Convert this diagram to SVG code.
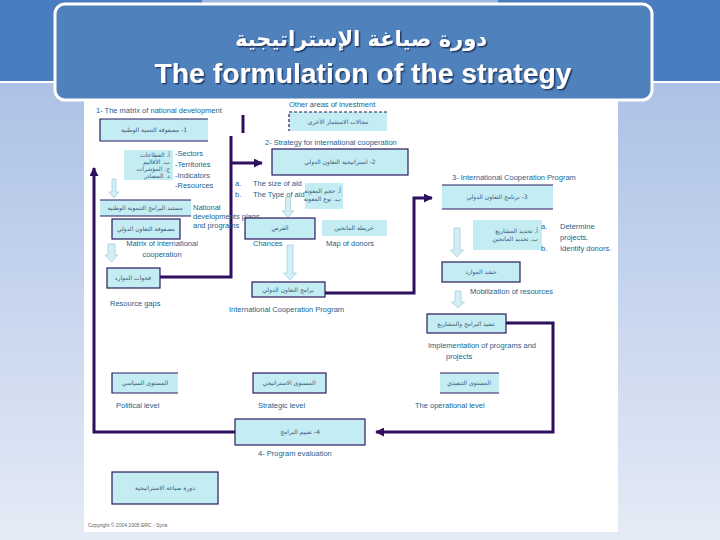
<svg xmlns="http://www.w3.org/2000/svg" width="720" height="540" viewBox="0 0 720 540">
<style>
.lbl{font-family:"Liberation Sans","DejaVu Sans",sans-serif;font-size:7.5px;fill:#1c5f8c}
.ar{font-family:"DejaVu Sans",sans-serif;font-size:6px;fill:#3a5878}
.bx{fill:#c4ecf3}
.bd{fill:none;stroke:#2a1a5e;stroke-width:1.2}
.dash{fill:none;stroke:#2a1a5e;stroke-width:1.2;stroke-dasharray:3,2}
.con{fill:none;stroke:#2e0f5e;stroke-width:3}
.barr{fill:#d3eef5;stroke:#a6cfe0;stroke-width:0.8}
.cp{font-family:"Liberation Sans",sans-serif;font-size:5px;fill:#666}
</style>
<defs>
<linearGradient id="bg" x1="0" y1="0" x2="0" y2="1">
<stop offset="0" stop-color="#a2bae3"/>
<stop offset="1" stop-color="#e5ebf6"/>
</linearGradient>
<filter id="sh" x="-5%" y="-20%" width="110%" height="140%">
<feDropShadow dx="1.5" dy="1.5" stdDeviation="0.4" flood-color="#1d3560" flood-opacity="0.9"/>
</filter>
<marker id="ah" viewBox="0 0 10 10" refX="9" refY="5" markerWidth="3.2" markerHeight="3" orient="auto" markerUnits="strokeWidth">
<path d="M0,0 L10,5 L0,10 Z" fill="#2e0f5e"/>
</marker>
</defs>

<g id="background">
<rect x="0" y="0" width="720" height="540" fill="url(#bg)"/>
<rect x="0" y="0" width="720" height="81" fill="#4a7dbf"/>
<rect x="0" y="81" width="720" height="2" fill="#ffffff"/>
<rect x="84" y="95" width="534" height="437" fill="#ffffff"/>
</g>

<g id="header">
<rect x="202" y="0" width="296" height="5" fill="#9fb7e0"/>
<rect x="55" y="4" width="597" height="96" rx="10" fill="#4f81bd" stroke="#ffffff" stroke-width="3"/>
<text x="361" y="46" text-anchor="middle" direction="rtl" font-family="'DejaVu Sans',sans-serif" font-weight="bold" font-size="21" fill="#ffffff" filter="url(#sh)">دورة صياغة الإستراتيجية</text>
<text x="363" y="83" text-anchor="middle" font-family="'Liberation Sans',sans-serif" font-weight="bold" font-size="27" fill="#ffffff" textLength="417" lengthAdjust="spacingAndGlyphs" filter="url(#sh)">The formulation of the strategy</text>
</g>

<g id="connectors">
<path class="con" d="M243,115 V133"/>
<path class="con" d="M160,277 H231 V136"/>
<path class="con" d="M231,163 H262" marker-end="url(#ah)"/>
<path class="con" d="M325,293 H414 V198 H432" marker-end="url(#ah)"/>
<path class="con" d="M506,323 H553 V432 H376" marker-end="url(#ah)"/>
<path class="con" d="M235,432 H94 V168" marker-end="url(#ah)"/>
</g>

<g id="n-matrix-national">
<text class="lbl" x="96" y="113">1- The matrix of national development</text>
<rect class="bx" x="100" y="119" width="108" height="22"/>
<path class="bd" d="M208,119 H100 V141 H208"/>
<text class="ar" x="154" y="132" text-anchor="middle" direction="rtl">1- مصفوفة التنمية الوطنية</text>
</g>

<g id="n-sectors">
<rect class="bx" x="124" y="150" width="49" height="30"/>
<text class="ar" x="170" y="157" text-anchor="start" direction="rtl" font-size="5.5">أ. القطاعات</text>
<text class="ar" x="170" y="164" text-anchor="start" direction="rtl" font-size="5.5">ب. الأقاليم</text>
<text class="ar" x="170" y="171" text-anchor="start" direction="rtl" font-size="5.5">ج. المؤشرات</text>
<text class="ar" x="170" y="178" text-anchor="start" direction="rtl" font-size="5.5">د. المصادر</text>
<text class="lbl" x="175" y="156">-Sectors</text>
<text class="lbl" x="175" y="167">-Territories</text>
<text class="lbl" x="175" y="178">-Indicators</text>
<text class="lbl" x="175" y="188">-Resources</text>
<path class="barr" d="M112,179 H116 V192 H119 L114,198 L109,192 H112 Z"/>
</g>

<g id="n-national-plans">
<rect class="bx" x="100" y="200" width="91" height="16"/>
<path class="bd" d="M100,200 H191 M100,216 H191"/>
<text class="ar" x="145" y="210" text-anchor="middle" direction="rtl">مستند البرامج التنموية الوطنية</text>
<text class="lbl" x="193" y="210">National</text>
<text class="lbl" x="193" y="219">developments plans</text>
<text class="lbl" x="193" y="228">and programs</text>
</g>

<g id="n-matrix-intl">
<rect class="bx" x="112" y="219" width="68" height="20"/>
<rect class="bd" x="112" y="219" width="68" height="20"/>
<text class="ar" x="146" y="231" text-anchor="middle" direction="rtl">مصفوفة التعاون الدولي</text>
<text class="lbl" x="162" y="246" text-anchor="middle">Matrix of international</text>
<text class="lbl" x="162" y="257" text-anchor="middle">cooperation</text>
<path class="barr" d="M108,244 H115 V255 H118 L111.5,262 L105,255 H108 Z"/>
</g>

<g id="n-resource-gaps">
<rect class="bx" x="107" y="268" width="53" height="20"/>
<rect class="bd" x="107" y="268" width="53" height="20"/>
<text class="ar" x="133" y="280" text-anchor="middle" direction="rtl">فجوات الموارد</text>
<text class="lbl" x="110" y="306">Resource gaps</text>
</g>

<g id="n-other-areas">
<text class="lbl" x="289" y="107">Other areas of investment</text>
<rect class="bx" x="289" y="112" width="98" height="19"/>
<path class="dash" d="M387,112 H289 V131"/>
<text class="ar" x="338" y="124" text-anchor="middle" direction="rtl">مجالات الاستثمار الأخرى</text>
</g>

<g id="n-strategy">
<text class="lbl" x="265" y="145">2- Strategy for international cooperation</text>
<rect class="bx" x="272" y="149" width="136" height="26"/>
<rect class="bd" x="272" y="149" width="136" height="26"/>
<text class="ar" x="340" y="164" text-anchor="middle" direction="rtl">2- استراتيجية التعاون الدولي</text>
</g>

<g id="n-aid">
<text class="lbl" x="235" y="186">a.</text>
<text class="lbl" x="253" y="186">The size of aid</text>
<text class="lbl" x="235" y="197">b.</text>
<text class="lbl" x="253" y="197">The Type of aid.</text>
<rect class="bx" x="305" y="183" width="38" height="26"/>
<text class="ar" x="341" y="193" text-anchor="start" direction="rtl" font-size="4.5">أ. حجم المعونة</text>
<text class="ar" x="341" y="201" text-anchor="start" direction="rtl" font-size="4.5">ب. نوع المعونة</text>
<path class="barr" d="M285.5,197 H290.5 V211 H294 L288,217 L282,211 H285.5 Z"/>
</g>

<g id="n-chances">
<rect class="bx" x="245" y="218" width="70" height="21"/>
<rect class="bd" x="245" y="218" width="70" height="21"/>
<text class="ar" x="280" y="230" text-anchor="middle" direction="rtl">الفرص</text>
<text class="lbl" x="253" y="246">Chances</text>
<path class="barr" d="M287,245 H293 V273 H296.5 L290,280 L283.5,273 H287 Z"/>
</g>

<g id="n-donors">
<rect class="bx" x="322" y="220" width="65" height="16"/>
<text class="ar" x="354" y="230" text-anchor="middle" direction="rtl">خريطة المانحين</text>
<text class="lbl" x="326" y="246">Map of donors</text>
</g>

<g id="n-prog-intl">
<rect class="bx" x="252" y="282" width="73" height="15"/>
<rect class="bd" x="252" y="282" width="73" height="15"/>
<text class="ar" x="288" y="292" text-anchor="middle" direction="rtl">برامج التعاون الدولي</text>
<text class="lbl" x="229" y="312">International Cooperation Program</text>
</g>

<g id="n-program3">
<text class="lbl" x="452" y="180">3- International Cooperation Program</text>
<rect class="bx" x="442" y="185" width="111" height="24"/>
<path class="bd" d="M442,185 H553 M442,209 H553"/>
<text class="ar" x="497" y="199" text-anchor="middle" direction="rtl">3- برنامج التعاون الدولي</text>
</g>

<g id="n-determine">
<rect class="bx" x="473" y="220" width="69" height="30"/>
<text class="ar" x="538" y="233" text-anchor="start" direction="rtl" font-size="5.5">أ. تحديد المشاريع</text>
<text class="ar" x="538" y="241" text-anchor="start" direction="rtl" font-size="5.5">ب. تحديد المانحين</text>
<text class="lbl" x="541" y="229">a.</text>
<text class="lbl" x="560" y="229">Determine</text>
<text class="lbl" x="560" y="240">projects.</text>
<text class="lbl" x="541" y="251">b.</text>
<text class="lbl" x="560" y="251">Identify donors.</text>
<path class="barr" d="M454,228 H460 V250 H463.5 L457,257 L450.5,250 H454 Z"/>
</g>

<g id="n-mobilization">
<rect class="bx" x="442" y="262" width="78" height="20"/>
<rect class="bd" x="442" y="262" width="78" height="20"/>
<text class="ar" x="481" y="274" text-anchor="middle" direction="rtl">حشد الموارد</text>
<text class="lbl" x="470" y="294">Mobilization of resources</text>
<path class="barr" d="M455,291 H461 V302 H464.5 L458,308 L451.5,302 H455 Z"/>
</g>

<g id="n-implementation">
<rect class="bx" x="427" y="314" width="79" height="19"/>
<rect class="bd" x="427" y="314" width="79" height="19"/>
<text class="ar" x="466" y="326" text-anchor="middle" direction="rtl">تنفيذ البرامج والمشاريع</text>
<text class="lbl" x="428" y="348">Implementation of programs and</text>
<text class="lbl" x="446" y="359">projects</text>
</g>

<g id="n-political">
<rect class="bx" x="112" y="373" width="66" height="20"/>
<path class="bd" d="M178,373 H112 V393 H178"/>
<text class="ar" x="145" y="385" text-anchor="middle" direction="rtl">المستوى السياسي</text>
<text class="lbl" x="116" y="408">Political level</text>
</g>

<g id="n-strategic">
<rect class="bx" x="253" y="373" width="73" height="20"/>
<rect class="bd" x="253" y="373" width="73" height="20"/>
<text class="ar" x="289" y="385" text-anchor="middle" direction="rtl">المستوى الاستراتيجي</text>
<text class="lbl" x="258" y="408">Strategic level</text>
</g>

<g id="n-operational">
<rect class="bx" x="440" y="373" width="59" height="20"/>
<path class="bd" d="M440,373 H499 M440,393 H499"/>
<text class="ar" x="469" y="385" text-anchor="middle" direction="rtl">المستوى التنفيذي</text>
<text class="lbl" x="415" y="408">The operational level</text>
</g>

<g id="n-evaluation">
<rect class="bx" x="235" y="419" width="130" height="26"/>
<rect class="bd" x="235" y="419" width="130" height="26"/>
<text class="ar" x="300" y="434" text-anchor="middle" direction="rtl">4- تقييم البرامج</text>
<text class="lbl" x="258" y="456">4- Program evaluation</text>
</g>

<g id="n-cycle">
<rect class="bx" x="112" y="472" width="106" height="32"/>
<rect class="bd" x="112" y="472" width="106" height="32"/>
<text class="ar" x="165" y="490" text-anchor="middle" direction="rtl">دورة صياغة الاستراتيجية</text>
</g>

<text class="cp" x="88" y="527">Copyright © 2004 2005 ERC - Syria</text>
</svg>
